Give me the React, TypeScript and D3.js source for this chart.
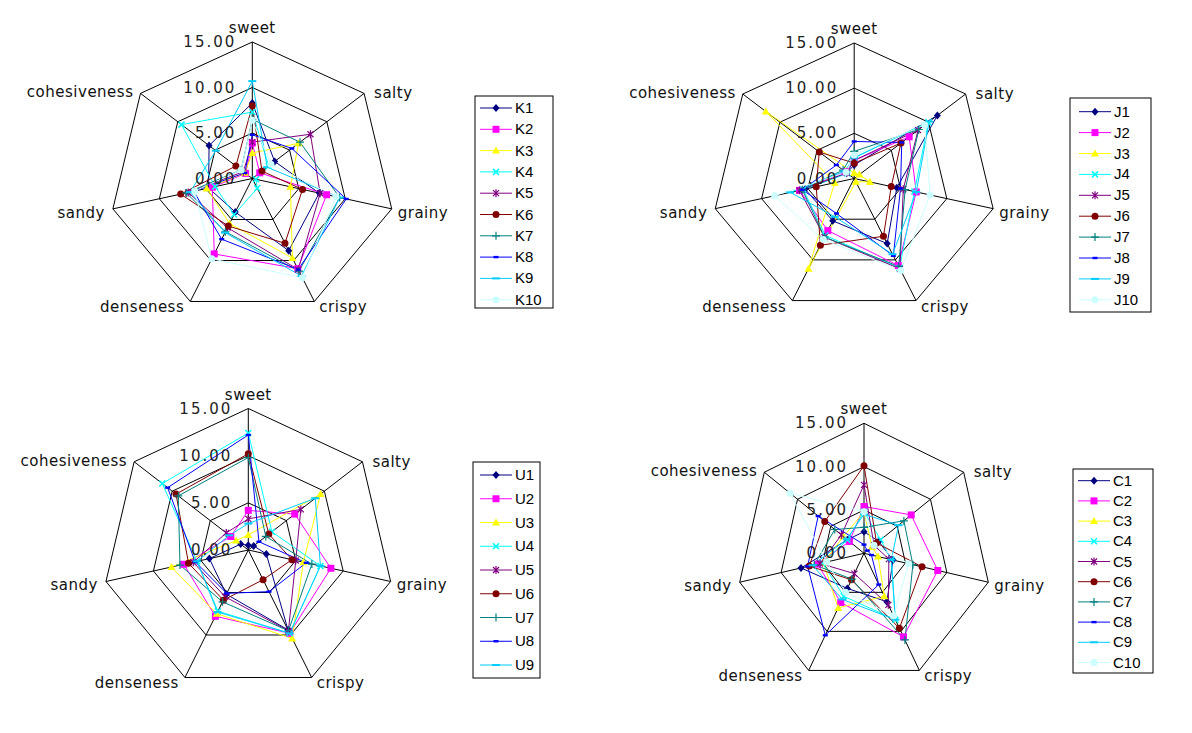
import React from 'react';
import * as d3 from 'd3';

const AXES = ['sweet', 'salty', 'grainy', 'crispy', 'denseness', 'sandy', 'cohesiveness'];
const TICK_VALUES = [0, 5, 10, 15];
const TICK_LABELS = ['0.00', '5.00', '10.00', '15.00'];
const SERIES_COLORS = ['#000080', '#FF00FF', '#FFFF00', '#00FFFF', '#800080', '#800000', '#008080', '#0000FF', '#00CCFF', '#CCFFFF'];
const MARKERS = ['diamond', 'square', 'triangle', 'x', 'star', 'circle', 'plus', 'dash', 'longdash', 'circle'];

// order: sweet, salty, grainy, crispy, denseness, sandy, cohesiveness
const K_NAMES = ['K1', 'K2', 'K3', 'K4', 'K5', 'K6', 'K7', 'K8', 'K9', 'K10'];
const K_VALUES = [
  [8.3, 3.0, 7.2, 8.8, 4.1, 4.7, 5.8],
  [3.9, 1.0, 8.0, 11.0, 9.2, 4.3, 0.9],
  [2.8, 6.2, 4.1, 9.7, 5.5, 4.9, 1.0],
  [7.3, 2.2, 0.4, 1.2, 4.4, 4.0, 9.5],
  [4.0, 7.8, 7.3, 11.1, 6.0, 6.9, 1.2],
  [8.0, 1.3, 5.4, 7.9, 5.8, 7.7, 2.2],
  [6.5, 6.4, 9.4, 11.3, 6.5, 7.1, 1.5],
  [4.8, 5.3, 10.1, 11.1, 7.4, 6.3, 1.0],
  [10.7, 2.0, 9.4, 11.9, 6.6, 6.7, 4.9],
  [6.4, 2.5, 9.0, 12.1, 9.8, 6.2, 1.5],
];

const J_NAMES = ['J1', 'J2', 'J3', 'J4', 'J5', 'J6', 'J7', 'J8', 'J9', 'J10'];
const J_VALUES = [
  [1.5, 11.2, 4.6, 8.0, 5.2, 5.3, 1.0],
  [2.0, 7.4, 6.7, 10.7, 6.4, 5.9, 1.2],
  [0.6, 0.7, 1.7, 0.4, 11.1, 2.1, 11.9],
  [2.3, 10.0, 6.5, 11.0, 7.0, 5.5, 0.9],
  [2.0, 8.6, 5.3, 11.1, 7.2, 5.9, 1.0],
  [1.7, 6.3, 4.0, 7.1, 8.2, 4.1, 4.7],
  [3.0, 8.7, 5.5, 10.8, 7.2, 5.6, 1.5],
  [4.1, 6.4, 5.0, 9.5, 4.3, 5.6, 2.4],
  [2.3, 10.1, 6.7, 9.3, 4.7, 6.9, 1.3],
  [2.6, 9.5, 8.2, 11.3, 7.5, 8.6, 1.1],
];

const U_NAMES = ['U1', 'U2', 'U3', 'U4', 'U5', 'U6', 'U7', 'U8', 'U9'];
const U_VALUES = [
  [0.5, 0.7, 1.9, 9.4, 5.2, 4.1, 1.0],
  [4.2, 6.1, 8.7, 9.8, 7.8, 6.8, 2.3],
  [1.6, 9.5, 5.8, 10.4, 7.5, 8.1, 1.6],
  [12.4, 3.1, 7.6, 9.8, 7.2, 5.4, 11.3],
  [3.3, 6.9, 5.0, 9.5, 5.5, 5.8, 2.9],
  [10.2, 2.7, 4.6, 3.5, 5.9, 6.3, 9.5],
  [9.8, 2.3, 6.7, 9.5, 6.1, 7.2, 9.2],
  [12.2, 1.4, 6.1, 4.9, 5.1, 5.6, 10.6],
  [2.8, 8.8, 7.6, 9.8, 7.3, 5.4, 2.5],
];

const C_NAMES = ['C1', 'C2', 'C3', 'C4', 'C5', 'C6', 'C7', 'C8', 'C9', 'C10'];
const C_VALUES = [
  [2.5, 2.2, 3.5, 6.2, 4.5, 7.6, 2.5],
  [5.4, 7.1, 8.9, 10.7, 6.3, 5.6, 2.2],
  [4.8, 1.2, 1.7, 5.5, 7.0, 4.9, 3.1],
  [4.8, 2.5, 3.3, 8.5, 5.5, 5.0, 2.5],
  [7.9, 1.5, 3.0, 6.6, 2.6, 5.3, 3.4],
  [10.1, 1.9, 7.0, 9.6, 3.4, 6.6, 5.9],
  [3.0, 6.0, 5.9, 11.1, 3.3, 6.0, 4.4],
  [1.0, 0.5, 0.9, 4.0, 10.5, 6.8, 6.9],
  [4.5, 5.2, 3.3, 8.5, 5.9, 6.2, 2.6],
  [4.8, 1.5, 5.4, 8.0, 5.0, 4.5, 11.1],
];

const PANELS = [
  { names: K_NAMES, values: K_VALUES, cx: 252.3, cy: 178.5, rx: 143, ry: 136.5,
    legend: { x: 475, y: 96, w: 78, h: 212, y0: 108, dy: 21.3, lx: 480 } },
  { names: J_NAMES, values: J_VALUES, cx: 854.2, cy: 178.5, rx: 142.5, ry: 135.5,
    legend: { x: 1070, y: 98, w: 81, h: 214, y0: 111.7, dy: 20.9, lx: 1079 } },
  { names: U_NAMES, values: U_VALUES, cx: 248.3, cy: 550, rx: 146, ry: 141.5,
    legend: { x: 473, y: 462, w: 67, h: 216, y0: 475, dy: 23.75, lx: 480 } },
  { names: C_NAMES, values: C_VALUES, cx: 864, cy: 553.3, rx: 127.5, ry: 130,
    legend: { x: 1073, y: 469, w: 80, h: 204, y0: 480.7, dy: 20.2, lx: 1078 } },
];

const LABEL_OFFSETS: [number, number, string][] = [
  [0, -9, 'middle'], [10, 5, 'start'], [6, 9, 'start'], [5, 11, 'start'],
  [-6, 11, 'end'], [-8, 9, 'end'], [-7, 4, 'end'],
];

function Marker({ type, x, y, color }: { type: string; x: number; y: number; color: string }) {
  const s = 3.5;
  switch (type) {
    case 'diamond':
      return <path d={`M${x},${y - s - 0.5}L${x + s},${y}L${x},${y + s + 0.5}L${x - s},${y}Z`} fill={color} />;
    case 'square':
      return <rect x={x - 3.5} y={y - 3.5} width={7} height={7} fill={color} />;
    case 'triangle':
      return <path d={`M${x},${y - 4}L${x + 4},${y + 3}L${x - 4},${y + 3}Z`} fill={color} />;
    case 'x':
      return <path d={`M${x - 3},${y - 3}L${x + 3},${y + 3}M${x - 3},${y + 3}L${x + 3},${y - 3}`} stroke={color} strokeWidth={1.5} />;
    case 'star':
      return <path d={`M${x - 3},${y - 3}L${x + 3},${y + 3}M${x - 3},${y + 3}L${x + 3},${y - 3}M${x},${y - 4}L${x},${y + 4}`} stroke={color} strokeWidth={1.2} />;
    case 'circle':
      return <circle cx={x} cy={y} r={3.5} fill={color} />;
    case 'plus':
      return <path d={`M${x - 4},${y}L${x + 4},${y}M${x},${y - 4}L${x},${y + 4}`} stroke={color} strokeWidth={1.2} />;
    case 'dash':
      return <rect x={x - 2.5} y={y - 1.2} width={5} height={2.4} fill={color} />;
    case 'longdash':
      return <rect x={x - 4} y={y - 1} width={8} height={2} fill={color} />;
    default:
      return null;
  }
}

function Panel({ p }: { p: typeof PANELS[number] }) {
  const n = AXES.length;
  const ang = d3.range(n).map((i) => (i * 2 * Math.PI) / n);
  const sx = d3.scaleLinear().domain([0, 15]).range([0, p.rx]);
  const sy = d3.scaleLinear().domain([0, 15]).range([0, p.ry]);
  const pt = (v: number, i: number): [number, number] => [
    p.cx + sx(v) * Math.sin(ang[i]),
    p.cy - sy(v) * Math.cos(ang[i]),
  ];
  const closed = d3.line().curve(d3.curveLinearClosed);
  const L = p.legend;
  return (
    <g>
      {TICK_VALUES.filter((v) => v > 0).map((v) => (
        <path key={'g' + v} d={closed(ang.map((_, i) => pt(v, i))) || ''} fill="none" stroke="#000" strokeWidth={1} />
      ))}
      {ang.map((_, i) => {
        const [x2, y2] = pt(15, i);
        return <line key={'s' + i} x1={p.cx} y1={p.cy} x2={x2} y2={y2} stroke="#000" strokeWidth={1} />;
      })}
      {p.values.map((vals, si) => (
        <path key={'l' + si} d={closed(vals.map((v, i) => pt(v, i))) || ''} fill="none" stroke={SERIES_COLORS[si]} strokeWidth={1} />
      ))}
      {p.values.map((vals, si) =>
        vals.map((v, i) => {
          const [x, y] = pt(v, i);
          return <Marker key={'m' + si + '-' + i} type={MARKERS[si]} x={x} y={y} color={SERIES_COLORS[si]} />;
        })
      )}
      {TICK_VALUES.map((v, ti) => (
        <text key={'t' + v} x={p.cx - 16} y={pt(v, 0)[1] + 5} textAnchor="end" fontFamily="DejaVu Sans, sans-serif" fontSize={15} letterSpacing={2} fill="#222">
          {TICK_LABELS[ti]}
        </text>
      ))}
      {AXES.map((a, i) => {
        const [x, y] = pt(15, i);
        const [ox, oy, anchor] = LABEL_OFFSETS[i];
        return (
          <text key={'a' + i} x={x + ox} y={y + oy} textAnchor={anchor as any} fontFamily="DejaVu Sans, sans-serif" fontSize={15} letterSpacing={0.5} fill="#111">
            {a}
          </text>
        );
      })}
      <rect x={L.x} y={L.y} width={L.w} height={L.h} fill="#fff" stroke="#000" strokeWidth={1} />
      {p.names.map((name, si) => {
        const y = L.y0 + si * L.dy;
        return (
          <g key={'lg' + si}>
            <line x1={L.lx} y1={y} x2={L.lx + 32} y2={y} stroke={SERIES_COLORS[si]} strokeWidth={1} />
            <Marker type={MARKERS[si]} x={L.lx + 16} y={y} color={SERIES_COLORS[si]} />
            <text x={L.lx + 35} y={y + 5} fontFamily="Liberation Sans, Arial, sans-serif" fontSize={15} fill="#000">
              {name}
            </text>
          </g>
        );
      })}
    </g>
  );
}

export default function App() {
  return (
    <svg width={1192} height={733} style={{ position: 'absolute', left: 0, top: 0, background: '#fff' }}>
      <rect width={1192} height={733} fill="#fff" />
      {PANELS.map((p, i) => (
        <Panel key={i} p={p} />
      ))}
    </svg>
  );
}
